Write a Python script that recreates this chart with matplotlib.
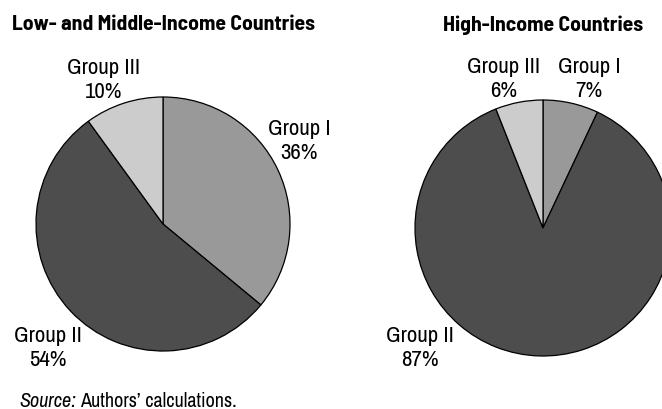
import matplotlib
matplotlib.use("Agg")
import matplotlib.pyplot as plt

plt.rcParams['font.family'] = ['Archivo Narrow', 'Liberation Sans Narrow', 'DejaVu Sans']
title_family = ['Barlow Semi Condensed', 'Archivo Narrow', 'DejaVu Sans']

groups = ["Group I", "Group II", "Group III"]
low_mid = [36, 54, 10]
high = [7, 87, 6]
colors = ["#999999", "#4d4d4d", "#cccccc"]

W, H = 662, 410
fig = plt.figure(figsize=(W / 100, H / 100), dpi=100)


def pie_axes(cx, cy, r):
    ax = fig.add_axes([(cx - r) / W, (H - cy - r) / H, 2 * r / W, 2 * r / H])
    ax.axis("off")
    return ax


def px(x, y):
    return x / W, 1 - y / H


ax1 = pie_axes(163, 225, 127)
ax1.pie(low_mid, colors=colors, startangle=90, counterclock=False, radius=1,
        wedgeprops=dict(edgecolor="black", linewidth=0.9), frame=False)
ax1.set_xlim(-1, 1)
ax1.set_ylim(-1, 1)

ax2 = pie_axes(543, 229, 128)
ax2.pie(high, colors=colors, startangle=90, counterclock=False, radius=1,
        wedgeprops=dict(edgecolor="black", linewidth=0.9), frame=False)
ax2.set_xlim(-1, 1)
ax2.set_ylim(-1, 1)

# titles
fig.text(*px(163, 25), "Low- and Middle-Income Countries", ha="center", va="center",
         fontsize=15.6, fontweight="bold", family=title_family)
fig.text(*px(543, 25), "High-Income Countries", ha="center", va="center",
         fontsize=15.6, fontweight="bold", family=title_family)

# slice labels (pixel positions of label centres)
lab_fs = 16.5
left_pos = [(299, 141), (48, 348), (104, 80)]
right_pos = [(589, 79), (420, 348), (504, 79)]
for name, v, (x, y) in zip(groups, low_mid, left_pos):
    fig.text(*px(x, y), f"{name}\n{v}%", ha="center", va="center",
             fontsize=lab_fs, linespacing=1.2)
for name, v, (x, y) in zip(groups, high, right_pos):
    fig.text(*px(x, y), f"{name}\n{v}%", ha="center", va="center",
             fontsize=lab_fs, linespacing=1.2)

src = fig.text(*px(19, 407), "Source:", ha="left", va="baseline", fontsize=14.5, style="italic")
fig.canvas.draw()
bb = src.get_window_extent()
fig.text(bb.x1 / W + 4 / W, 1 - 407 / H, "Authors\u2019 calculations.", ha="left",
         va="baseline", fontsize=14.5)

fig.savefig("out.png", dpi=100)
